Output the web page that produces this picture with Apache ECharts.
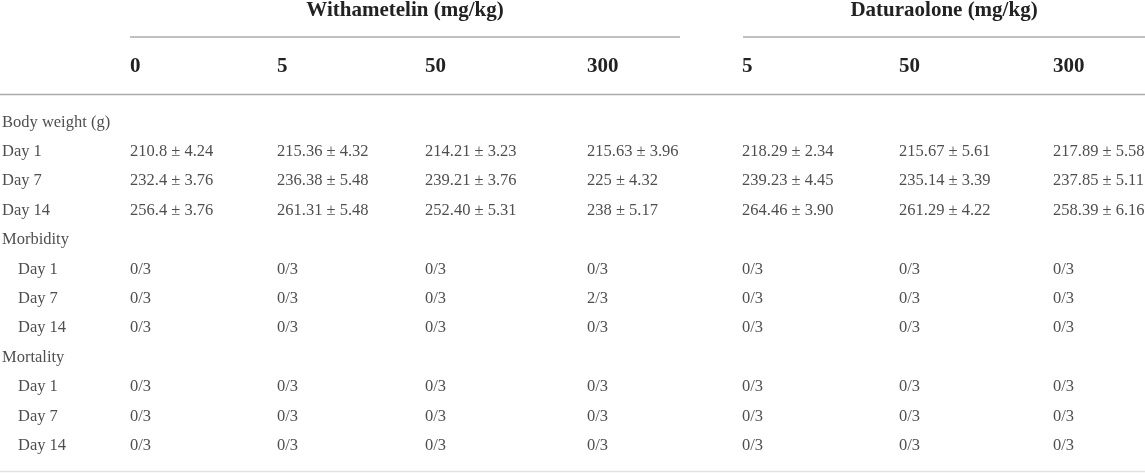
<!DOCTYPE html>
<html>
<head>
<meta charset="utf-8">
<title>Withametelin / Daturaolone toxicity table</title>
<script src="https://cdn.jsdelivr.net/npm/echarts@6/dist/echarts.min.js"></script>
<style>
  html, body { margin: 0; padding: 0; background: #fff; }
  #main { width: 1145px; height: 473px; }
</style>
</head>
<body>
<div id="main"></div>
<script>
'use strict';

// table content
var groupNames = ['Withametelin (mg/kg)', 'Daturaolone (mg/kg)'];
var doseLabels = ['0', '5', '50', '300', '5', '50', '300'];
var rowLabels = ['Body weight (g)', 'Day 1', 'Day 7', 'Day 14',
                 'Morbidity', 'Day 1', 'Day 7', 'Day 14',
                 'Mortality', 'Day 1', 'Day 7', 'Day 14'];

var bodyWeightDay1  = ['210.8 ± 4.24', '215.36 ± 4.32', '214.21 ± 3.23', '215.63 ± 3.96', '218.29 ± 2.34', '215.67 ± 5.61', '217.89 ± 5.58'];
var bodyWeightDay7  = ['232.4 ± 3.76', '236.38 ± 5.48', '239.21 ± 3.76', '225 ± 4.32', '239.23 ± 4.45', '235.14 ± 3.39', '237.85 ± 5.11'];
var bodyWeightDay14 = ['256.4 ± 3.76', '261.31 ± 5.48', '252.40 ± 5.31', '238 ± 5.17', '264.46 ± 3.90', '261.29 ± 4.22', '258.39 ± 6.16'];
var morbidityDay1  = ['0/3', '0/3', '0/3', '0/3', '0/3', '0/3', '0/3'];
var morbidityDay7  = ['0/3', '0/3', '0/3', '2/3', '0/3', '0/3', '0/3'];
var morbidityDay14 = ['0/3', '0/3', '0/3', '0/3', '0/3', '0/3', '0/3'];
var mortalityDay1  = ['0/3', '0/3', '0/3', '0/3', '0/3', '0/3', '0/3'];
var mortalityDay7  = ['0/3', '0/3', '0/3', '0/3', '0/3', '0/3', '0/3'];
var mortalityDay14 = ['0/3', '0/3', '0/3', '0/3', '0/3', '0/3', '0/3'];

// one entry per table row (null = section heading row)
var rowValues = [null, bodyWeightDay1, bodyWeightDay7, bodyWeightDay14,
                 null, morbidityDay1, morbidityDay7, morbidityDay14,
                 null, mortalityDay1, mortalityDay7, mortalityDay14];

// layout
var W = 1145;
var colX = [130, 277, 425, 587, 742, 899, 1053];
var labelX = [2, 2, 2, 2, 2, 18, 18, 18, 2, 18, 18, 18];
var groupSpan = [[130, 680], [743, 1145]];
var textColor = '#222222';
var font = '"Liberation Serif", "Times New Roman", serif';

var cells = [];
rowLabels.forEach(function (label, r) {
    cells.push([labelX[r], r, label]);
    if (rowValues[r]) {
        rowValues[r].forEach(function (v, c) {
            cells.push([colX[c], r, v]);
        });
    }
});

var myChart = echarts.init(document.getElementById('main'));

var option = {
    animation: false,
    grid: { left: 0, right: 0, top: 107.6, bottom: 12.6 },
    xAxis: { type: 'value', min: 0, max: W, show: false },
    yAxis: {
        type: 'category',
        inverse: true,
        data: rowLabels.map(function (d, i) { return i; }),
        show: false
    },
    series: [{
        type: 'scatter',
        symbolSize: 0,
        silent: true,
        data: cells,
        label: {
            show: true,
            position: 'right',
            distance: 0,
            align: 'left',
            verticalAlign: 'middle',
            color: textColor,
            fontFamily: font,
            fontSize: 16.5,
            formatter: function (p) { return p.value[2]; }
        }
    }]
};
myChart.setOption(option);

// header rows and rules, placed through the x axis
function px(x) { return myChart.convertToPixel({ xAxisIndex: 0 }, x); }

var graphics = [];
groupNames.forEach(function (name, g) {
    var x0 = px(groupSpan[g][0]), x1 = px(groupSpan[g][1]);
    graphics.push({
        type: 'text', x: (x0 + x1) / 2, y: 11,
        style: { text: name, fill: textColor, font: 'bold 21px ' + font,
                 textAlign: 'center', textVerticalAlign: 'middle' }
    });
    graphics.push({
        type: 'line', shape: { x1: x0, y1: 37, x2: x1, y2: 37 },
        style: { stroke: '#ababab', lineWidth: 1.5 }
    });
});
doseLabels.forEach(function (d, c) {
    graphics.push({
        type: 'text', x: px(colX[c]), y: 67,
        style: { text: d, fill: textColor, font: 'bold 21px ' + font,
                 textAlign: 'left', textVerticalAlign: 'middle' }
    });
});
graphics.push({
    type: 'line', shape: { x1: px(0), y1: 94.5, x2: px(W), y2: 94.5 },
    style: { stroke: '#ababab', lineWidth: 1.5 }
});
graphics.push({
    type: 'line', shape: { x1: px(0), y1: 471.5, x2: px(W), y2: 471.5 },
    style: { stroke: '#e2e2e2', lineWidth: 1.5 }
});

myChart.setOption({ graphic: graphics });
</script>
</body>
</html>
